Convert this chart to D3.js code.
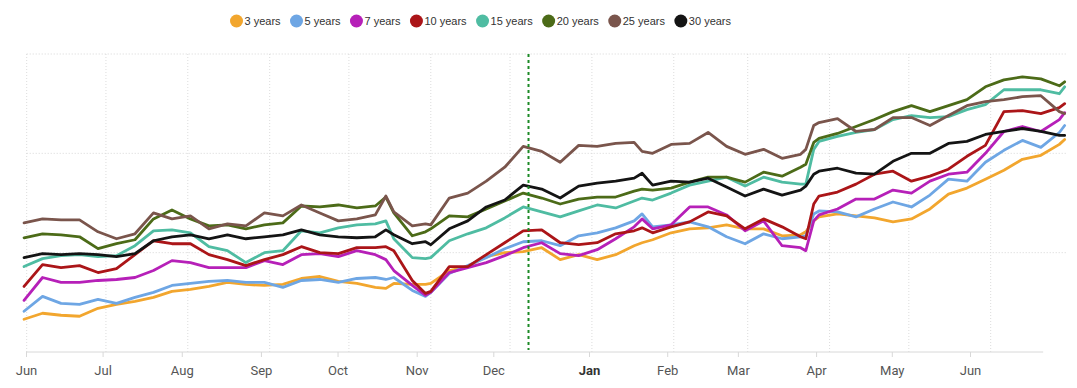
<!DOCTYPE html>
<html>
<head>
<meta charset="utf-8">
<script src="https://cdn.jsdelivr.net/npm/d3@7"></script>
<style>
  body { margin: 0; background: #fff; }
  svg { display: block; font-family: Roboto, Arial, sans-serif; }
</style>
</head>
<body>
<svg id="chart"></svg>
<script>
let width = 1077;
let height = 388;
let margin = { top: 54, right: 11, bottom: 36, left: 26 };

let parseDate = d3.timeParse("%Y-%m-%d");

// reading dates (mostly weekly, a few extra where the curves turn sharply)
const dates = [
  "2016-05-31", "2016-06-07", "2016-06-14", "2016-06-21", "2016-06-28",
  "2016-07-05", "2016-07-12", "2016-07-19", "2016-07-26", "2016-08-02",
  "2016-08-09", "2016-08-16", "2016-08-23", "2016-08-30", "2016-09-06",
  "2016-09-13", "2016-09-20", "2016-09-27", "2016-10-04", "2016-10-11",
  "2016-10-15", "2016-10-18", "2016-10-25", "2016-10-30", "2016-11-01",
  "2016-11-08", "2016-11-15", "2016-11-22", "2016-11-29", "2016-12-06",
  "2016-12-13", "2016-12-20", "2016-12-27", "2017-01-03", "2017-01-10",
  "2017-01-17", "2017-01-20", "2017-01-24", "2017-01-31", "2017-02-07",
  "2017-02-14", "2017-02-21", "2017-02-28", "2017-03-07", "2017-03-14",
  "2017-03-21", "2017-03-23", "2017-03-26", "2017-03-28", "2017-04-04",
  "2017-04-11", "2017-04-18", "2017-04-25", "2017-05-02", "2017-05-09",
  "2017-05-16", "2017-05-23", "2017-05-30", "2017-06-06", "2017-06-13",
  "2017-06-20", "2017-06-27", "2017-06-29"
].map(parseDate);

const months = d3.timeMonth.range(new Date(2016, 5, 1), new Date(2017, 6, 1));
const markerDate = new Date(2016, 11, 8);

const years3 = [33,39,37,36,44,48,51,55,61,63, 66,70,68,67,68,74,76,71,69,65, 64,
  69,68, 68, 69,82,86,96,100,101,105,93, 98,93,98,107, 110,
  113,120,124,125,128,124,124,117,118, 121,132,
  136,139,137,135,131,134,144, 159,165,174,183,194,198,209,214];
const years5 = [41,56,49,48,53,49,55,60,67,69, 71,72,70,70,65,72,73,70,74,75, 73,
  75,62, 56, 60,79,87,95,104,111,112,107, 117,120,125,132, 139,
  126,128,131,126,116,109,119,114,116, 117,139,
  142,141,136,144,151,146,158, 174,172,191,203,213,206,221,228];
const years7 = [52,75,70,70,72,73,75,82,92,90, 85,85,85,92,88,98,99,96,102,98, 93,
  82,67, 57, 60,80,85,90,97,105,110,99, 97,103,114,126, 134,
  124,128,146,146,138,122,132,107,105, 102,132,
  138,144,154,154,163,160,172, 179,181,200,222,227,222,234,241];
const years10 = [66,88,85,87,80,84,98,112,109,109, 98,93,87,93,98,106,100,99,105,105, 106,
  102,72, 59, 61,86,86,98,110,122,123,110, 108,110,119,122, 125,
  120,126,131,141,137,124,134,126,116, 114,149,
  157,161,169,179,182,172,177, 184,197,208,242,243,240,246,250];
const years15 = [86,94,97,98,96,97,107,122,123,120, 106,102,90,100,102,122,120,125,128,129, 132,
  114,95, 94, 95,112,119,125,135,146,141,136, 142,148,145,152, 155,
  153,160,168,172,176,167,176,171,169, 169,204,
  212,217,221,224,234,238,236, 237,244,249,264,264,264,260,267];
const years20 = [115,119,118,116,104,109,113,134,143,134, 127,128,124,128,130,147,146,148,145,147, 156,
  140,117, 121, 124,137,136,144,152,160,155,149, 154,156,156,162, 164,
  163,165,171,176,176,171,181,177,186, 189,211,
  215,220,227,234,242,248,242, 248,254,267,274,277,275,268,272];
const years25 = [130,134,133,133,121,114,119,140,134,137, 124,129,127,140,137,148,140,132,134,138, 157,
  141,127, 129, 128,155,160,172,186,207,202,191, 208,207,210,211, 202,
  200,209,210,221,207,199,204,195,199, 204,228,
  231,235,222,224,236,236,228, 238,248,252,254,257,258,242,240];
const years30 = [95,99,98,99,98,96,99,112,116,118, 114,118,114,116,118,123,118,116,115,116, 123,
  118,109, 111, 108,124,132,146,153,168,164,155, 167,170,172,175, 180,
  168,172,171,175,166,157,164,158,163, 167,179,
  182,185,180,179,192,200,200, 210,212,219,222,225,222,218,218];

const series = [
  { name: "3 years", color: "#f2a62e", values: years3 },
  { name: "5 years", color: "#6ea6e4", values: years5 },
  { name: "7 years", color: "#b620b8", values: years7 },
  { name: "10 years", color: "#ab1518", values: years10 },
  { name: "15 years", color: "#4fbca2", values: years15 },
  { name: "20 years", color: "#4c6b18", values: years20 },
  { name: "25 years", color: "#7a554c", values: years25 },
  { name: "30 years", color: "#141414", values: years30 }
];

let svg = d3.select("#chart")
  .attr("width", width)
  .attr("height", height);

let x = d3.scaleTime()
  .domain([new Date(2016, 5, 1), new Date(2017, 5, 1)])
  .range([26.7, 990.7]);

// the month labels sit on their own (slightly squeezed) scale
let xLabels = d3.scaleTime()
  .domain([new Date(2016, 5, 1), new Date(2016, 11, 1), new Date(2017, 0, 1), new Date(2017, 5, 1)])
  .range([26, 493.3, 589, 970]);

let y = d3.scaleLinear()
  .domain([0, 300])
  .range([height - margin.bottom, margin.top]);

let plotEnd = x(new Date(2017, 5, 30));

// gridlines
svg.append("g")
  .selectAll("line")
  .data(months)
  .join("line")
    .attr("x1", d => x(d))
    .attr("x2", d => x(d))
    .attr("y1", y(300))
    .attr("y2", y(0))
    .attr("stroke", "#dcdcdc")
    .attr("stroke-dasharray", "1,2");

svg.append("g")
  .selectAll("line")
  .data([100, 200, 300])
  .join("line")
    .attr("x1", x(new Date(2016, 5, 1)))
    .attr("x2", plotEnd)
    .attr("y1", d => y(d))
    .attr("y2", d => y(d))
    .attr("stroke", "#d6d6d6")
    .attr("stroke-dasharray", "1,2");

// x axis
let xAxis = svg.append("g")
  .attr("transform", `translate(0,${y(0)})`)
  .call(d3.axisBottom(xLabels)
    .tickValues(months)
    .tickFormat(d3.timeFormat("%b"))
    .tickSize(5)
    .tickPadding(9)
    .tickSizeOuter(0));

xAxis.select(".domain")
  .attr("stroke", "#d8d8d8")
  .attr("d", `M${xLabels(new Date(2016, 5, 1))},0H${xLabels(new Date(2017, 5, 30))}`);
xAxis.selectAll(".tick line").attr("stroke", "#d8d8d8");
xAxis.selectAll(".tick text")
  .attr("font-size", 13)
  .attr("font-family", "Roboto, Arial, sans-serif")
  .attr("font-weight", d => d.getMonth() === 0 ? "bold" : null)
  .attr("fill", d => d.getMonth() === 0 ? "#333" : "#555");

// lines
let line = d3.line()
  .x((d, i) => x(dates[i]))
  .y(d => y(d));

svg.append("g")
  .selectAll("path")
  .data(series)
  .join("path")
    .attr("fill", "none")
    .attr("stroke", d => d.color)
    .attr("stroke-width", 2.8)
    .attr("stroke-linejoin", "round")
    .attr("stroke-linecap", "round")
    .attr("d", d => line(d.values));

// marker line
svg.append("line")
  .attr("x1", x(markerDate))
  .attr("x2", x(markerDate))
  .attr("y1", y(300))
  .attr("y2", y(0) - 2)
  .attr("stroke", "#1c8a26")
  .attr("stroke-width", 2)
  .attr("stroke-dasharray", "3,3");

// legend
let legend = svg.append("g")
  .attr("transform", "translate(230,21)");

let cursor = 0;
series.forEach(s => {
  let item = legend.append("g").attr("transform", `translate(${cursor},0)`);
  item.append("circle")
    .attr("cx", 6.5)
    .attr("r", 6.5)
    .attr("fill", s.color);
  let label = item.append("text")
    .attr("x", 14.5)
    .attr("dy", "0.35em")
    .attr("font-family", "Arial, 'Liberation Sans', sans-serif")
    .attr("font-size", 11)
    .attr("fill", "#333")
    .text(s.name);
  cursor += 14.5 + label.node().getComputedTextLength() + 9.4;
});
</script>
</body>
</html>
